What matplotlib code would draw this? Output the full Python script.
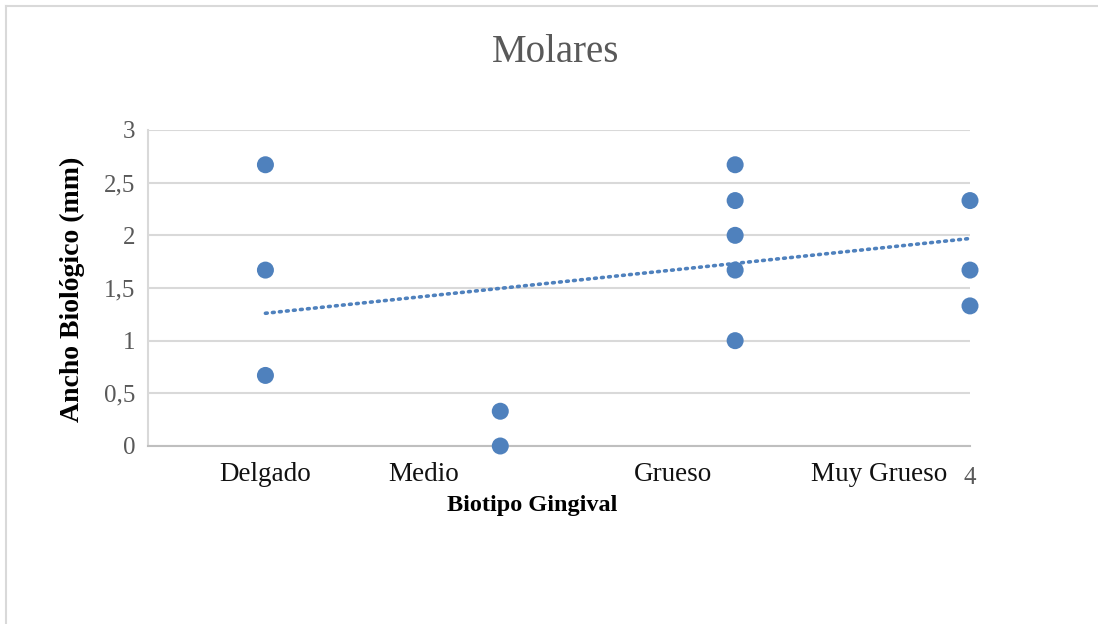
import matplotlib
matplotlib.use('Agg')
import matplotlib.pyplot as plt
from matplotlib.lines import Line2D

# Ancho biológico en molares según biotipo gingival
biotipo_x = [1, 1, 1, 2, 2, 3, 3, 3, 3, 3, 4, 4, 4]
ancho_mm = [2.67, 1.67, 0.67, 0.33, 0.0, 2.67, 2.33, 2.0, 1.67, 1.0, 2.33, 1.67, 1.33]

# línea de tendencia (extremos en x=1 y x=4)
tendencia_x = [1, 4]
tendencia_y = [1.26, 1.97]

categorias = ['Delgado', 'Medio', 'Grueso', 'Muy Grueso']
pos_categorias = [1.0, 1.674, 2.734, 3.615]

y_ticks = [0, 0.5, 1, 1.5, 2, 2.5, 3]
y_labels = ['0', '0,5', '1', '1,5', '2', '2,5', '3']

plt.rcParams['font.family'] = ['Liberation Serif', 'DejaVu Serif']

azul = '#4f81bd'
gris_txt = '#595959'

fig = plt.figure(figsize=(10.98, 6.24), dpi=100)
ax = fig.add_axes([148 / 1098, 1 - 446 / 624, 822 / 1098, 316 / 624])

ax.scatter(biotipo_x, ancho_mm, s=150, color=azul, edgecolors='none', zorder=3, clip_on=False)
ax.plot(tendencia_x, tendencia_y, color=azul, lw=2.6, linestyle=(0, (0.5, 1.45)),
        dash_capstyle='round', zorder=2)

ax.set_xlim(0.5, 4)
ax.set_ylim(0, 3)
ax.set_yticks(y_ticks)
ax.set_yticklabels(y_labels, fontsize=18, color=gris_txt)
ax.set_xticks([4])
ax.set_xticklabels(['4'], fontsize=18, color=gris_txt)
ax.tick_params(length=0, pad=9)
ax.tick_params(axis='x', pad=15)

for pos, nombre in zip(pos_categorias, categorias):
    ax.text(pos, -0.09, nombre, ha='center', va='center', fontsize=19.5, color='#111111',
            transform=ax.get_xaxis_transform())

ax.grid(axis='y', color='#d9d9d9', lw=1.5)
ax.set_axisbelow(True)
for lado in ['top', 'right']:
    ax.spines[lado].set_visible(False)
ax.spines['left'].set_color('#d9d9d9')
ax.spines['left'].set_linewidth(1.5)
ax.spines['bottom'].set_color('#bfbfbf')
ax.spines['bottom'].set_linewidth(1.5)

fig.text(556 / 1098, 1 - 52 / 624, 'Molares', ha='center', va='center', fontsize=28, color=gris_txt)
fig.text(532 / 1098, 1 - 505 / 624, 'Biotipo Gingival', ha='center', va='center', fontsize=17.5,
         fontweight='bold', color='black')
fig.text(72 / 1098, 1 - 289 / 624, 'Ancho Biológico (mm)', ha='center', va='center', fontsize=20,
         fontweight='bold', color='black', rotation=90)

# marco del área del gráfico (solo bordes superior e izquierdo)
fig.add_artist(Line2D([5.5 / 1098, 5.5 / 1098], [0, 1 - 5.5 / 624], color='#d9d9d9', lw=1.5))
fig.add_artist(Line2D([5.5 / 1098, 1], [1 - 5.5 / 624, 1 - 5.5 / 624], color='#d9d9d9', lw=1.5))

fig.savefig('out.png', dpi=100)
plt.close(fig)
